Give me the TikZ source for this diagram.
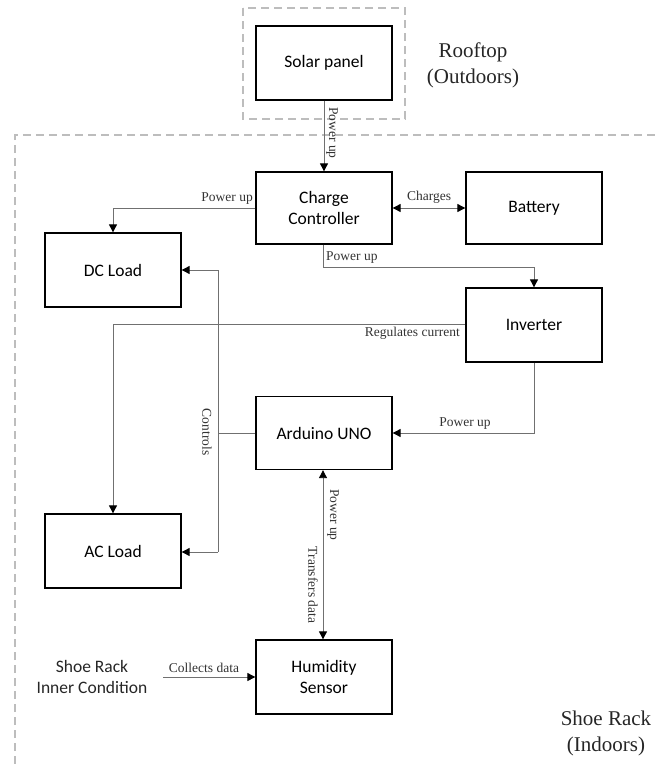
\documentclass[tikz,border=0pt]{standalone}
\usepackage{fontspec}
\setmainfont{Liberation Serif}
\newfontfamily\boxfont{Carlito}
\usetikzlibrary{arrows.meta}
\definecolor{conn}{HTML}{707070}
\definecolor{dash}{HTML}{BDBDBD}
\tikzset{
  blk/.style={draw=black, line width=1.3pt, minimum width=136pt, minimum height=73pt, inner sep=0pt, align=center, font=\boxfont\fontsize{17.5}{21}\selectfont},
  wire/.style={draw=conn, line width=0.9pt, -{Triangle[length=8pt,width=8pt,fill=black,color=black]}},
  dwire/.style={draw=conn, line width=0.9pt, {Triangle[length=8pt,width=8pt,fill=black,color=black]}-{Triangle[length=8pt,width=8pt,fill=black,color=black]}},
  pline/.style={draw=conn, line width=0.9pt},
  lbl/.style={font=\fontsize{13.5}{15}\selectfont, inner sep=1pt, text=black!80},
  zone/.style={draw=dash, line width=1.4pt, dash pattern=on 8pt off 5pt},
  zonetxt/.style={font=\fontsize{21}{26}\selectfont, align=center, text=black!85},
}
\begin{document}
\begin{tikzpicture}[x=1pt,y=-1pt]
\useasboundingbox (0,0) rectangle (656,764);
% zones
\draw[zone] (243,8) rectangle (405,119);
\draw[zone] (15,764) -- (15,135) -- (656,135);
\node[zonetxt] (roof) at (473,65) {Rooftop\\(Outdoors)};
\node[zonetxt] (indoor) at (606,733) {Shoe Rack\\(Indoors)};
% blocks
\node[blk, minimum height=74pt] (solar) at (324,63) {Solar panel};
\node[blk, minimum height=72pt] (cc) at (324,208) {Charge\\Controller};
\node[blk, minimum height=72pt] (bat) at (534,208) {Battery};
\node[blk, minimum height=74pt] (dc) at (113,270) {DC Load};
\node[blk, minimum height=74pt] (inv) at (534,325) {Inverter};
\node[blk] (ard) at (324,433) {Arduino UNO};
\node[blk, minimum height=74pt] (ac) at (113,551) {AC Load};
\node[blk, minimum height=74pt] (hum) at (324,677) {Humidity\\Sensor};
\node[align=center, font=\boxfont\fontsize{17.5}{21}\selectfont, text=black!85] (inner) at (92,677) {Shoe Rack\\Inner Condition};
% helper coordinates
\coordinate (ccdn) at (323,267);
\coordinate (ctop) at (218,270);
\coordinate (cmid) at (218,433);
\coordinate (cbot) at (218,552);
\coordinate (cdst) at (163,677);
% connectors
\draw[wire] (solar.south) -- (cc.north);
\node[lbl, rotate=-90] (l1) at (332,133) {Power up};
\draw[wire] (cc.west) -| (dc.north);
\node[lbl, anchor=south east] (l2) at (254,206) {Power up};
\draw[dwire] (cc.east) -- (bat.west);
\node[lbl, anchor=south] (l3) at (429,205) {Charges};
\draw[wire] ([xshift=-1pt]cc.south) -- (ccdn) -| (inv.north);
\node[lbl, anchor=south west] (l4) at (325,265) {Power up};
\draw[wire] (inv.west |- 0,324) -| (ac.north);
\node[lbl, anchor=north east] (l5) at (461,326) {Regulates current};
\draw[wire] (inv.south) |- (ard.east);
\node[lbl, anchor=south] (l6) at (465,431) {Power up};
\draw[wire] (ctop) -- (dc.east);
\draw[pline] (ctop) -- (cbot);
\draw[wire] (cbot) -- (ac.east |- cbot);
\draw[pline] (ard.west) -- (cmid);
\node[lbl, rotate=-90] (l7) at (207,432) {Controls};
\draw[dwire] ([xshift=-1pt]ard.south) -- ([xshift=-1pt]hum.north);
\node[lbl, rotate=-90] (l8) at (333,515) {Power up};
\node[lbl, rotate=-90] (l9) at (313,585) {Transfers data};
\draw[wire] (cdst) -- (hum.west);
\node[lbl, anchor=south] (l10) at (204,674) {Collects data};
\end{tikzpicture}
\end{document}
